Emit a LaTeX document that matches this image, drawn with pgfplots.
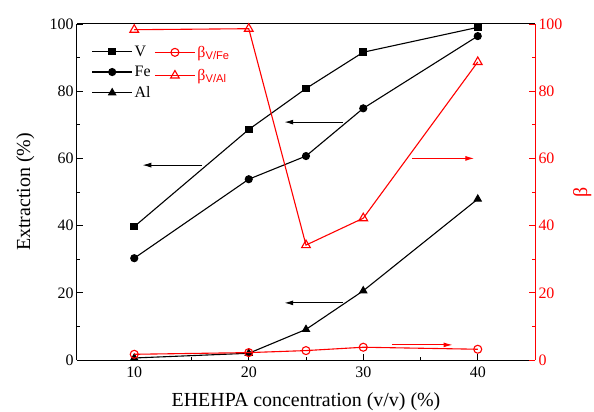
\documentclass[border=0pt]{standalone}
\usepackage{fontspec}
\setmainfont{Liberation Serif}
\newfontfamily\sansf{Liberation Sans}
\usepackage{pgfplots}
\pgfplotsset{compat=1.18}
\usetikzlibrary{arrows.meta}
\definecolor{myred}{RGB}{255,0,0}
\begin{document}
\begin{tikzpicture}
\path[use as bounding box] (-77bp,-52bp) rectangle (517bp,360bp);
\pgfplotsset{
  common/.style={
    at={(0,0)}, anchor=south west, scale only axis, width=458bp, height=336bp,
    xmin=5, xmax=45, ymin=0, ymax=100,
    tick align=inside, major tick length=6bp, minor tick length=3bp,
    axis line style={line width=1bp,-},
    tick label style={font=\fontsize{16}{16}\selectfont},
    label style={font=\fontsize{20}{20}\selectfont},
    /pgf/number format/assume math mode=true,
    legend cell align=left,
    legend image code/.code={\draw[mark repeat=2,mark phase=2] plot coordinates {(0bp,0bp) (20bp,0bp) (40bp,0bp)};},
  }
}
\begin{axis}[common,
  axis x line*=box, axis y line*=left,
  xtick={10,20,30,40}, minor xtick={15,25,35}, xtick pos=left,
  ytick={0,20,40,60,80,100}, minor ytick={10,30,50,70,90},
  every tick/.style={black, line width=0.8bp},
  xticklabel style={yshift=-3bp},
  xlabel={EHEHPA concentration (v/v) (\%)}, ylabel={Extraction (\%)},
  xlabel style={at={(axis description cs:0.5,-0.124)}, anchor=center},
  ylabel style={at={(axis description cs:-0.113,0.5)}, anchor=center},
  legend style={draw=none, fill=none, at={(0.025,0.948)}, anchor=north west,
    font=\fontsize{16}{16}\selectfont, row sep=4.5bp},
]
\addplot[black, line width=1.1bp, mark=square*, mark size=3.3bp] coordinates {(10,39.7) (20,68.6) (25,80.8) (30,91.6) (40,99.0)};
\addlegendentry{V}
\addplot[black, line width=1.1bp, mark=*, mark size=3.5bp] coordinates {(10,30.3) (20,53.8) (25,60.7) (30,74.9) (40,96.4)};
\addlegendentry{Fe}
\addplot[black, line width=1.1bp, mark=triangle*, mark size=4bp] coordinates {(10,0.6) (20,2.0) (25,9.1) (30,20.6) (40,47.9)};
\addlegendentry{Al}
\addplot[black, line width=1.1bp, -{Latex[length=9bp,width=5bp]}, forget plot] coordinates {(15.9,58) (10.7,58)};
\addplot[black, line width=1.1bp, -{Latex[length=9bp,width=5bp]}, forget plot] coordinates {(28.2,70.8) (23.1,70.8)};
\addplot[black, line width=1.1bp, -{Latex[length=9bp,width=5bp]}, forget plot] coordinates {(28.2,17.0) (23.1,17.0)};
\end{axis}
\begin{axis}[common,
  axis x line=none, axis y line*=right,
  ytick={0,20,40,60,80,100}, minor ytick={10,30,50,70,90},
  y axis line style={myred},
  every tick/.style={myred, line width=0.8bp},
  yticklabel style={myred},
  ylabel={β}, ylabel style={myred, at={(axis description cs:1.103,0.5)}, anchor=center},
  legend style={draw=none, fill=none, at={(0.162,0.947)}, anchor=north west,
    font=\fontsize{16}{16}\selectfont, text=myred, row sep=6.5bp},
]
\addplot[myred, line width=1.1bp, mark=o, mark size=4bp, mark options={fill=white}] coordinates {(10,1.7) (20,2.2) (25,2.8) (30,3.8) (40,3.2)};
\addlegendentry{β\textsubscript{\sansf V/Fe}}
\addplot[myred, line width=1.1bp, mark=triangle, mark size=5bp, mark options={fill=white}] coordinates {(10,98.3) (20,98.6) (25,34.2) (30,42.2) (40,88.7)};
\addlegendentry{β\textsubscript{\sansf V/Al}}
\addplot[myred, line width=1.1bp, -{Latex[length=9bp,width=5bp]}, forget plot] coordinates {(34.3,60) (39.7,60)};
\addplot[myred, line width=1.1bp, -{Latex[length=9bp,width=5bp]}, forget plot] coordinates {(32.5,4.5) (37.8,4.5)};
\end{axis}
\end{tikzpicture}
\end{document}
